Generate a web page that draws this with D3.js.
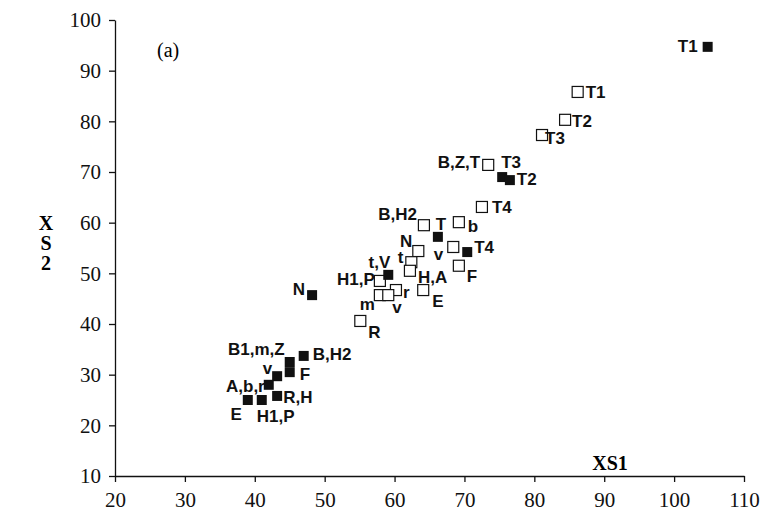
<!DOCTYPE html>
<html>
<head>
<meta charset="utf-8">
<script src="https://cdn.jsdelivr.net/npm/d3@7/dist/d3.min.js"></script>
<style>
  body { margin: 0; background: #fff; }
  svg { display: block; }
</style>
</head>
<body>
<div id="chart"></div>
<script>
// open squares (first series)
const openLabels = ["T1", "T2", "T3", "T3", "T4", "b", "B,H2", "v", "N", "t", "H,A", "F", "E", "H1,P", "r", "m", "v", "R"];
const openX = [86.2, 84.4, 81.1, 73.4, 72.5, 69.2, 64.2, 68.4, 63.4, 62.4, 62.2, 69.2, 64.1, 57.9, 60.2, 57.9, 59.1, 55.1];
const openY = [85.8, 80.3, 77.3, 71.4, 63.1, 60.1, 59.5, 55.2, 54.4, 52.2, 50.5, 51.5, 46.7, 48.5, 46.7, 45.7, 45.7, 40.6];

// filled squares (second series)
const filledLabels = ["T1", "B,Z,T", "T2", "T", "T4", "t,V", "N", "B1,m,Z", "F", "B,H2", "v", "A,b,r", "R,H", "E", "H1,P"];
const filledX = [104.8, 75.4, 76.5, 66.2, 70.4, 59.1, 48.2, 45.0, 45.0, 47.0, 43.2, 42.0, 43.2, 39.0, 41.0];
const filledY = [94.7, 69.0, 68.4, 57.2, 54.2, 49.7, 45.7, 32.5, 30.5, 33.7, 29.7, 28.0, 25.8, 25.0, 25.0];

const xTicks = [20, 30, 40, 50, 60, 70, 80, 90, 100, 110];
const yTicks = [10, 20, 30, 40, 50, 60, 70, 80, 90, 100];

// where each label sits next to its square: [anchor, dx, dy]
const openPlace = [
  ["start", 8, 6], ["start", 7, 7], ["start", 3, 9], ["start", 13, 3], ["start", 10, 6],
  ["start", 9, 10], ["end", -7, -5], ["end", -10, 13], ["end", -6, -4], ["end", -8, 1],
  ["start", 8, 12], ["start", 8, 16], ["start", 9, 17], ["end", -5, 4], ["start", 7, 8],
  ["end", -5, 15], ["start", 4, 18], ["start", 8, 17]
];
const filledPlace = [
  ["end", -10, 5], ["end", -22, -9], ["start", 7, 5], ["middle", 3, -7], ["start", 7, 1],
  ["end", 2, -7], ["end", -7, 0], ["end", -5, -7], ["start", 10, 8], ["start", 9, 4],
  ["end", -5, -2], ["end", -4, 7], ["start", 6, 7], ["end", -6, 20], ["start", -5, 22]
];

const width = 779, height = 526;
const svg = d3.select('#chart').append('svg')
  .attr('width', width)
  .attr('height', height);

const x = d3.scaleLinear().domain([20, 110]).range([115, 744]);
const y = d3.scaleLinear().domain([10, 100]).range([476, 20]);

const serif = '"Liberation Serif", "Times New Roman", serif';

// axes
const xAxis = svg.append('g')
  .attr('transform', `translate(0,${y(10)})`)
  .call(d3.axisBottom(x).tickValues(xTicks).tickSize(6).tickSizeOuter(0).tickPadding(10));
xAxis.selectAll('text')
  .style('font-family', serif)
  .style('font-size', '21px')
  .attr('fill', '#111');

const yAxis = svg.append('g')
  .attr('transform', `translate(${x(20)},0)`)
  .call(d3.axisLeft(y).tickValues(yTicks).tickSize(6).tickSizeOuter(0).tickPadding(8));
yAxis.selectAll('text')
  .style('font-family', serif)
  .style('font-size', '21px')
  .attr('fill', '#111');

svg.selectAll('.domain, .tick line').attr('stroke', '#111').attr('stroke-width', 1.3);

// axis titles
svg.append('text')
  .attr('x', 610).attr('y', 470)
  .attr('text-anchor', 'middle')
  .style('font-family', serif)
  .style('font-size', '20px').style('font-weight', 'bold')
  .text('XS1');

const yTitle = svg.append('text')
  .attr('x', 46).attr('y', 230)
  .attr('text-anchor', 'middle')
  .style('font-family', serif)
  .style('font-size', '20px').style('font-weight', 'bold');
['X', 'S', '2'].forEach((c, i) => {
  yTitle.append('tspan').attr('x', 46).attr('dy', i === 0 ? 0 : 20).text(c);
});

svg.append('text')
  .attr('x', 157).attr('y', 57)
  .style('font-family', serif)
  .style('font-size', '20px')
  .text('(a)');

const labelFont = '"Liberation Sans", Arial, sans-serif';

// open squares
const openData = openLabels.map((l, i) => ({ label: l, x: openX[i], y: openY[i], place: openPlace[i] }));
const openSize = 11;
svg.append('g').selectAll('rect')
  .data(openData)
  .join('rect')
  .attr('x', d => x(d.x) - openSize / 2)
  .attr('y', d => y(d.y) - openSize / 2)
  .attr('width', openSize)
  .attr('height', openSize)
  .attr('fill', 'white')
  .attr('stroke', '#111')
  .attr('stroke-width', 1.2);

// filled squares
const filledData = filledLabels.map((l, i) => ({ label: l, x: filledX[i], y: filledY[i], place: filledPlace[i] }));
const filledSize = 10;
svg.append('g').selectAll('rect')
  .data(filledData)
  .join('rect')
  .attr('x', d => x(d.x) - filledSize / 2)
  .attr('y', d => y(d.y) - filledSize / 2)
  .attr('width', filledSize)
  .attr('height', filledSize)
  .attr('fill', '#111');

// labels
svg.append('g').selectAll('text')
  .data(openData.concat(filledData))
  .join('text')
  .attr('x', d => x(d.x) + d.place[1])
  .attr('y', d => y(d.y) + d.place[2])
  .attr('text-anchor', d => d.place[0])
  .style('font-family', labelFont)
  .style('font-size', '17px')
  .style('font-weight', 'bold')
  .attr('fill', '#111')
  .text(d => d.label);
</script>
</body>
</html>
